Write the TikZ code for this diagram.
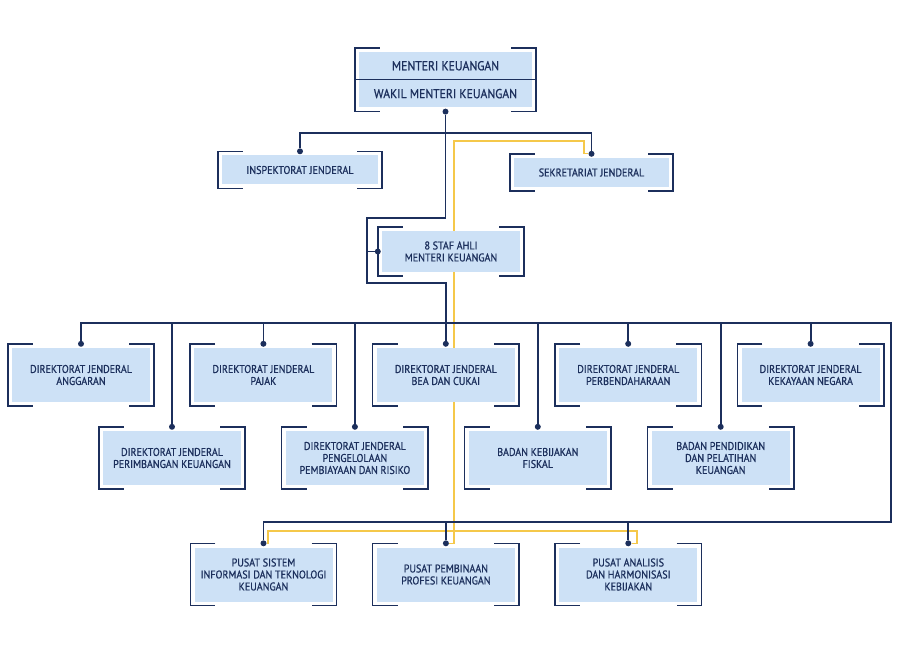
\documentclass[tikz,border=0pt]{standalone}
\usepackage{fontspec}
\setmainfont{PT Sans}[FakeStretch=0.9, FakeBold=0.8]
\usetikzlibrary{positioning,calc,backgrounds}
\definecolor{navy}{HTML}{1C2F5C}
\definecolor{paleblue}{HTML}{CDE1F6}
\definecolor{routeyellow}{HTML}{F5C84A}

\begin{document}
\begin{tikzpicture}[
  x=1pt, y=-1pt,
  font=\fontsize{11.2}{12}\selectfont,
  text=navy,
  unit/.style={fill=paleblue, align=center, inner sep=2pt,
               minimum width=138pt, minimum height=54pt},
  head/.style={fill=paleblue, align=center, inner sep=2pt,
               minimum width=173pt, minimum height=27.5pt,
               font=\fontsize{13}{14}\selectfont},
  staff/.style={unit, minimum width=156pt, minimum height=29pt},
  brk/.style={draw=navy, line width=1.5pt},
  dot/.style={circle, fill=navy, inner sep=0pt, minimum size=6pt},
  link/.style={draw=navy, line width=1.8pt},
  route/.style={draw=routeyellow, line width=1.4pt},
]
\useasboundingbox (0,0) rectangle (900,655);

% Minister
\node[head] (menteri) at (445.5,65.75) {MENTERI KEUANGAN};
\node[head, below=0pt of menteri] (wakil) {WAKIL MENTERI KEUANGAN};

% Staff units
\node[staff] (inspektorat) at (300,170) {INSPEKTORAT JENDERAL};
\node[staff, minimum width=155pt] (sekretariat) at (591.5,172.5) {SEKRETARIAT JENDERAL};
\node[unit, minimum height=41pt] (staf) at (451,251.5) {8 STAF AHLI\\ MENTERI KEUANGAN};

% Directorates, first row
\node[unit] (anggaran) at (81,375) {DIREKTORAT JENDERAL\\ ANGGARAN};
\node[unit, right=44pt of anggaran] (pajak) {DIREKTORAT JENDERAL\\ PAJAK};
\node[unit, right=44pt of pajak] (bea) {DIREKTORAT JENDERAL\\ BEA DAN CUKAI};
\node[unit, right=44pt of bea] (perbendaharaan) {DIREKTORAT JENDERAL\\ PERBENDAHARAAN};
\node[unit, right=44pt of perbendaharaan] (kekayaan) {DIREKTORAT JENDERAL\\ KEKAYAAN NEGARA};

% Directorates, second row
\node[unit] (perimbangan) at (172,458) {DIREKTORAT JENDERAL\\ PERIMBANGAN KEUANGAN};
\node[unit, right=44.5pt of perimbangan] (pengelolaan) {DIREKTORAT JENDERAL\\ PENGELOLAAN\\ PEMBIAYAAN DAN RISIKO};
\node[unit, right=44.5pt of pengelolaan] (fiskal) {BADAN KEBIJAKAN\\ FISKAL};
\node[unit, right=44.5pt of fiskal] (pendidikan) {BADAN PENDIDIKAN\\ DAN PELATIHAN\\ KEUANGAN};

% Centres
\node[unit] (sistem) at (263.5,574.5) {PUSAT SISTEM\\ INFORMASI DAN TEKNOLOGI\\ KEUANGAN};
\node[unit, right=44pt of sistem] (pembinaan) {PUSAT PEMBINAAN\\ PROFESI KEUANGAN};
\node[unit, right=44pt of pembinaan] (analisis) {PUSAT ANALISIS\\ DAN HARMONISASI\\ KEBIJAKAN};

\draw[navy, line width=0.8pt] ($(menteri.south west)+(-4pt,0pt)$) -- ($(menteri.south east)+(4pt,0pt)$);

% Bracket frames
\foreach \a/\b in {menteri/wakil, inspektorat/inspektorat, sekretariat/sekretariat,
    staf/staf, anggaran/anggaran, pajak/pajak, bea/bea, perbendaharaan/perbendaharaan,
    kekayaan/kekayaan, perimbangan/perimbangan, pengelolaan/pengelolaan,
    fiskal/fiskal, pendidikan/pendidikan, sistem/sistem, pembinaan/pembinaan,
    analisis/analisis}{
  \draw[brk] ($(\a.north west)+(21pt,4pt)$) -| ($(\b.south west)+(-4pt,-4pt)$) -- ++(25pt,0pt);
  \draw[brk] ($(\a.north east)+(-21pt,4pt)$) -| ($(\b.south east)+(4pt,-4pt)$) -- ++(-25pt,0pt);
}

% Dots
\node[dot] (d_top) at ($(wakil.south)+(0pt,-4pt)$) {};
\node[dot] (d_staf) at ($(staf.west)+(-4pt,0pt)$) {};
\foreach \n in {inspektorat,sekretariat,anggaran,pajak,bea,perbendaharaan,kekayaan,
    perimbangan,pengelolaan,fiskal,pendidikan,sistem,pembinaan,analisis}
  \node[dot] (d_\n) at ($(\n.north)+(0pt,4pt)$) {};

% Junctions
\coordinate (loop_t) at (367,218);
\coordinate (loop_b) at (367,283);
\coordinate (hub) at (445.5,133);
\coordinate (bus_r) at (891,323);
\coordinate (bus_rb) at (891,522);
\coordinate (r_top) at (584,141);
\coordinate (r_turn) at (454,141);
\coordinate (r_low) at (454,531);
\coordinate (r_left) at (268,531);
\coordinate (r_right) at (637,531);

\begin{scope}[on background layer]
% Sekretariat route
\draw[route] (d_sekretariat) -| (r_top) -- (r_turn) -- (r_low);
\draw[route] (d_sistem) -| (r_left) -- (r_right) |- (d_analisis);
\draw[route] (d_pembinaan) -| (r_low);

% Lines of command
\draw[link] (d_top) |- (loop_t) -- (loop_b) -| (bea.north |- bus_r);
\draw[link] (loop_t |- d_staf) -- (d_staf);
\draw[link] (d_inspektorat) |- (hub) -| (d_sekretariat);
\draw[link] (d_anggaran) |- (bus_r) -- (bus_rb) -| (d_sistem);
\foreach \n in {pajak,bea,perbendaharaan,kekayaan,perimbangan,pengelolaan,fiskal,pendidikan}
  \draw[link] (d_\n) -- (d_\n |- bus_r);
\foreach \n in {pembinaan,analisis}
  \draw[link] (d_\n) -- (d_\n |- bus_rb);
\end{scope}
\end{tikzpicture}
\end{document}
